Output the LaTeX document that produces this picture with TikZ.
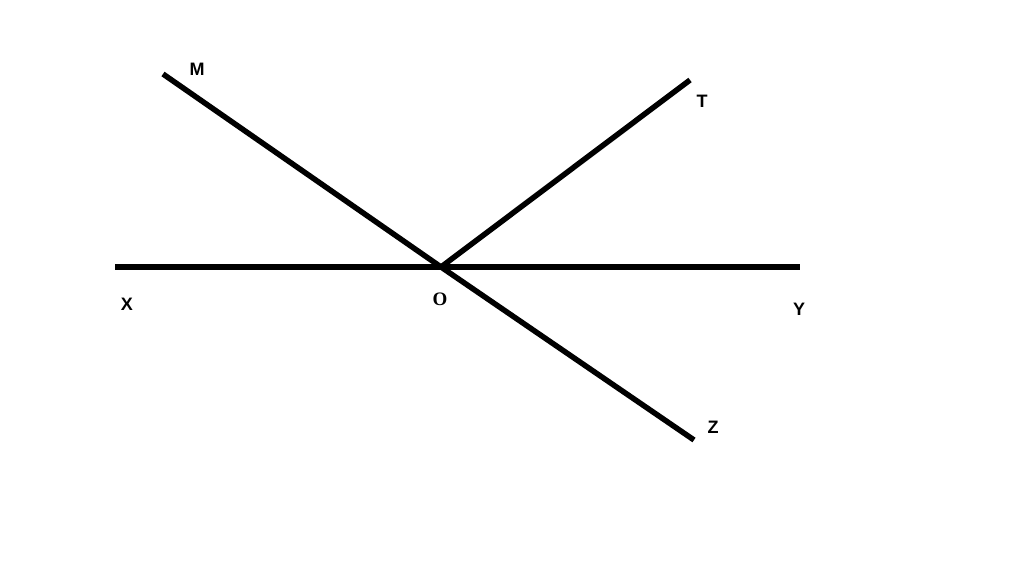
\documentclass[tikz,border=0pt]{standalone}
\usepackage{fontspec}
\setmainfont{Liberation Sans}
\newfontfamily\serifbold{Liberation Serif}
\begin{document}
\begin{tikzpicture}[x=1pt,y=-1pt,
  ray/.style={line width=5.5pt,black},
  lbl/.style={font=\fontsize{18}{18}\selectfont\bfseries,inner sep=0pt}]
\useasboundingbox[fill=white] (0,0) rectangle (1024,575);
\coordinate (O) at (441,267);
\coordinate (X) at (115,267);
\coordinate (Y) at (800,267);
\coordinate (M) at (163,74);
\coordinate (T) at (690,80);
\coordinate (Z) at (694,440);
\draw[ray] (X) -- (Y);
\draw[ray] (M) -- (O) -- (Z);
\draw[ray] (O) -- (T);
\node[lbl] (lM) at (197,69) {M};
\node[lbl] (lT) at (702,101) {T};
\node[lbl] (lX) at (127,304) {X};
\node[lbl,font=\fontsize{19}{19}\selectfont\bfseries\serifbold] (lO) at (440,299) {O};
\node[lbl] (lY) at (799,309) {Y};
\node[lbl] (lZ) at (713,427) {Z};
\end{tikzpicture}
\end{document}
